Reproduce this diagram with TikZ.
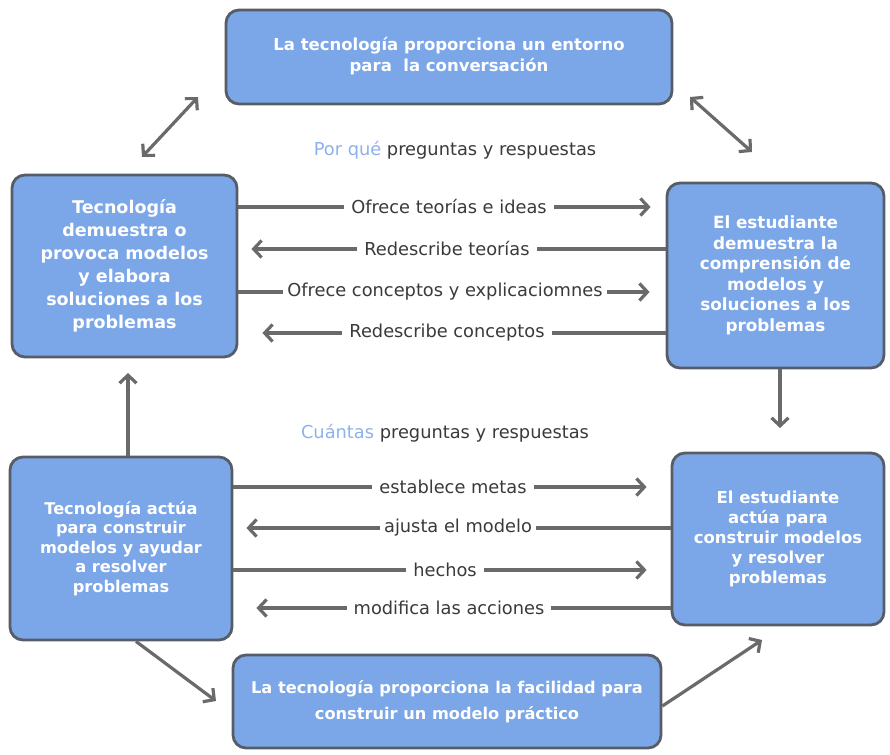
\documentclass[tikz,border=0pt]{standalone}
\usepackage{fontspec}
\setmainfont{DejaVu Sans}
\usetikzlibrary{arrows.meta}

\definecolor{boxfill}{HTML}{7BA6E8}
\definecolor{boxline}{HTML}{575D66}
\definecolor{wire}{HTML}{6A6A6A}
\definecolor{labtext}{HTML}{3A3A3A}
\definecolor{hint}{HTML}{8DB1EA}

\begin{document}
\begin{tikzpicture}[x=1pt,y=-1pt,
  box/.style={draw=boxline, line width=2.8pt, fill=boxfill, rounded corners=13pt,
    text=white, align=center, inner sep=0pt,
    font=\fontsize{16.5}{21}\selectfont\bfseries},
  lab/.style={fill=white, text=labtext, inner xsep=7pt, inner ysep=1pt,
    font=\fontsize{17.8}{20}\selectfont},
  head/.style={text=labtext, inner sep=0pt, font=\fontsize{17.8}{20}\selectfont},
  conn/.style={draw=wire, line width=3.2pt,
    arrows={-Straight Barb[length=8pt,width=17pt]}},
  twoway/.style={draw=wire, line width=3.2pt,
    arrows={Straight Barb[length=8pt,width=17pt]-Straight Barb[length=8pt,width=17pt]}}
]
\useasboundingbox (0,0) rectangle (890,754);

% boxes
\node[box, minimum width=446pt, minimum height=94pt] (top) at (449,57)
  {\raisebox{4pt}{\begin{tabular}{@{}c@{}}La tecnología proporciona un entorno\\para~ la conversación\end{tabular}}};
\node[box, minimum width=225pt, minimum height=182pt,
  font=\fontsize{17.5}{23}\selectfont\bfseries] (lu) at (124.5,266)
  {Tecnología\\demuestra o\\provoca modelos\\y elabora\\soluciones a los\\problemas};
\node[box, minimum width=217pt, minimum height=185pt,
  font=\fontsize{16.8}{20.5}\selectfont\bfseries] (ru) at (775.5,275.5)
  {El estudiante\\demuestra la\\comprensión de\\modelos y\\soluciones a los\\problemas};
\node[box, minimum width=222pt, minimum height=183pt,
  font=\fontsize{16.2}{19.5}\selectfont\bfseries] (ll) at (121,548.5)
  {Tecnología actúa\\para construir\\modelos y ayudar\\a resolver\\problemas};
\node[box, minimum width=212pt, minimum height=172pt,
  font=\fontsize{16.5}{20}\selectfont\bfseries] (rl) at (778,539)
  {El estudiante\\actúa para\\construir modelos\\y resolver\\problemas};
\node[box, minimum width=428pt, minimum height=93pt,
  font=\fontsize{16.2}{24}\selectfont\bfseries] (bot) at (447,701.5)
  {\raisebox{-3pt}{\begin{tabular}{@{}c@{}}La tecnología proporciona la facilidad para\\[2pt]construir un modelo práctico\end{tabular}}};

% row heights
\coordinate (y1) at (0,207);
\coordinate (y2) at (0,249);
\coordinate (y3) at (0,292);
\coordinate (y4) at (0,333);
\coordinate (y5) at (0,487);
\coordinate (y6) at (0,528);
\coordinate (y7) at (0,570);
\coordinate (y8) at (0,608);

% headings
\node[head] (h1) at (455,150) {\textcolor{hint}{Por qué} preguntas y respuestas};
\node[head] (h2) at (445,433) {\textcolor{hint}{Cuántas} preguntas y respuestas};

% upper exchange
\draw[conn, shorten >=15pt] (lu.east |- y1) -- (ru.west |- y1);
\node[lab] (l1) at (449,207) {Ofrece teorías e ideas};
\draw[conn, shorten >=13pt] (ru.west |- y2) -- (lu.east |- y2);
\node[lab] (l2) at (447,249) {Redescribe teorías};
\draw[conn, shorten >=16pt] (lu.east |- y3) -- (ru.west |- y3);
\node[lab, inner xsep=4pt] (l3) at (445,292) {Ofrece conceptos y explicaciomnes};
\draw[conn, shorten >=24pt] (ru.west |- y4) -- (lu.east |- y4);
\node[lab] (l4) at (447,333) {Redescribe conceptos};

% lower exchange
\draw[conn, shorten >=24pt] (ll.east |- y5) -- (rl.west |- y5);
\node[lab] (l5) at (453,487) {establece metas};
\draw[conn, shorten >=13pt] (rl.west |- y6) -- (ll.east |- y6);
\node[lab, inner xsep=4pt] (l6) at (458,528) {ajusta el modelo};
\draw[conn, shorten >=24pt] (ll.east |- y7) -- (rl.west |- y7);
\node[lab] (l7) at (445,570) {hechos};
\draw[conn, shorten >=23pt] (rl.west |- y8) -- (ll.east |- y8);
\node[lab] (l8) at (449,608) {modifica las acciones};

% links around the cycle
\coordinate (tl1) at (142,157);
\coordinate (tl2) at (198,97);
\draw[twoway] (tl1) -- (tl2);
\coordinate (tr1) at (690,97);
\coordinate (tr2) at (752,152);
\draw[twoway] (tr1) -- (tr2);

\coordinate (vr) at (780,428);
\draw[conn] (ru.south -| vr) -- (vr);
\coordinate (vl) at (128,373);
\draw[conn] (ll.north -| vl) -- (vl);

\coordinate (bl1) at (136,645);
\coordinate (bl2) at (216,701);
\draw[conn] (ll.south -| bl1) -- (bl2);
\coordinate (br1) at (0,706);
\coordinate (br2) at (762,640);
\draw[conn] (bot.east |- br1) -- (br2);
\end{tikzpicture}
\end{document}
